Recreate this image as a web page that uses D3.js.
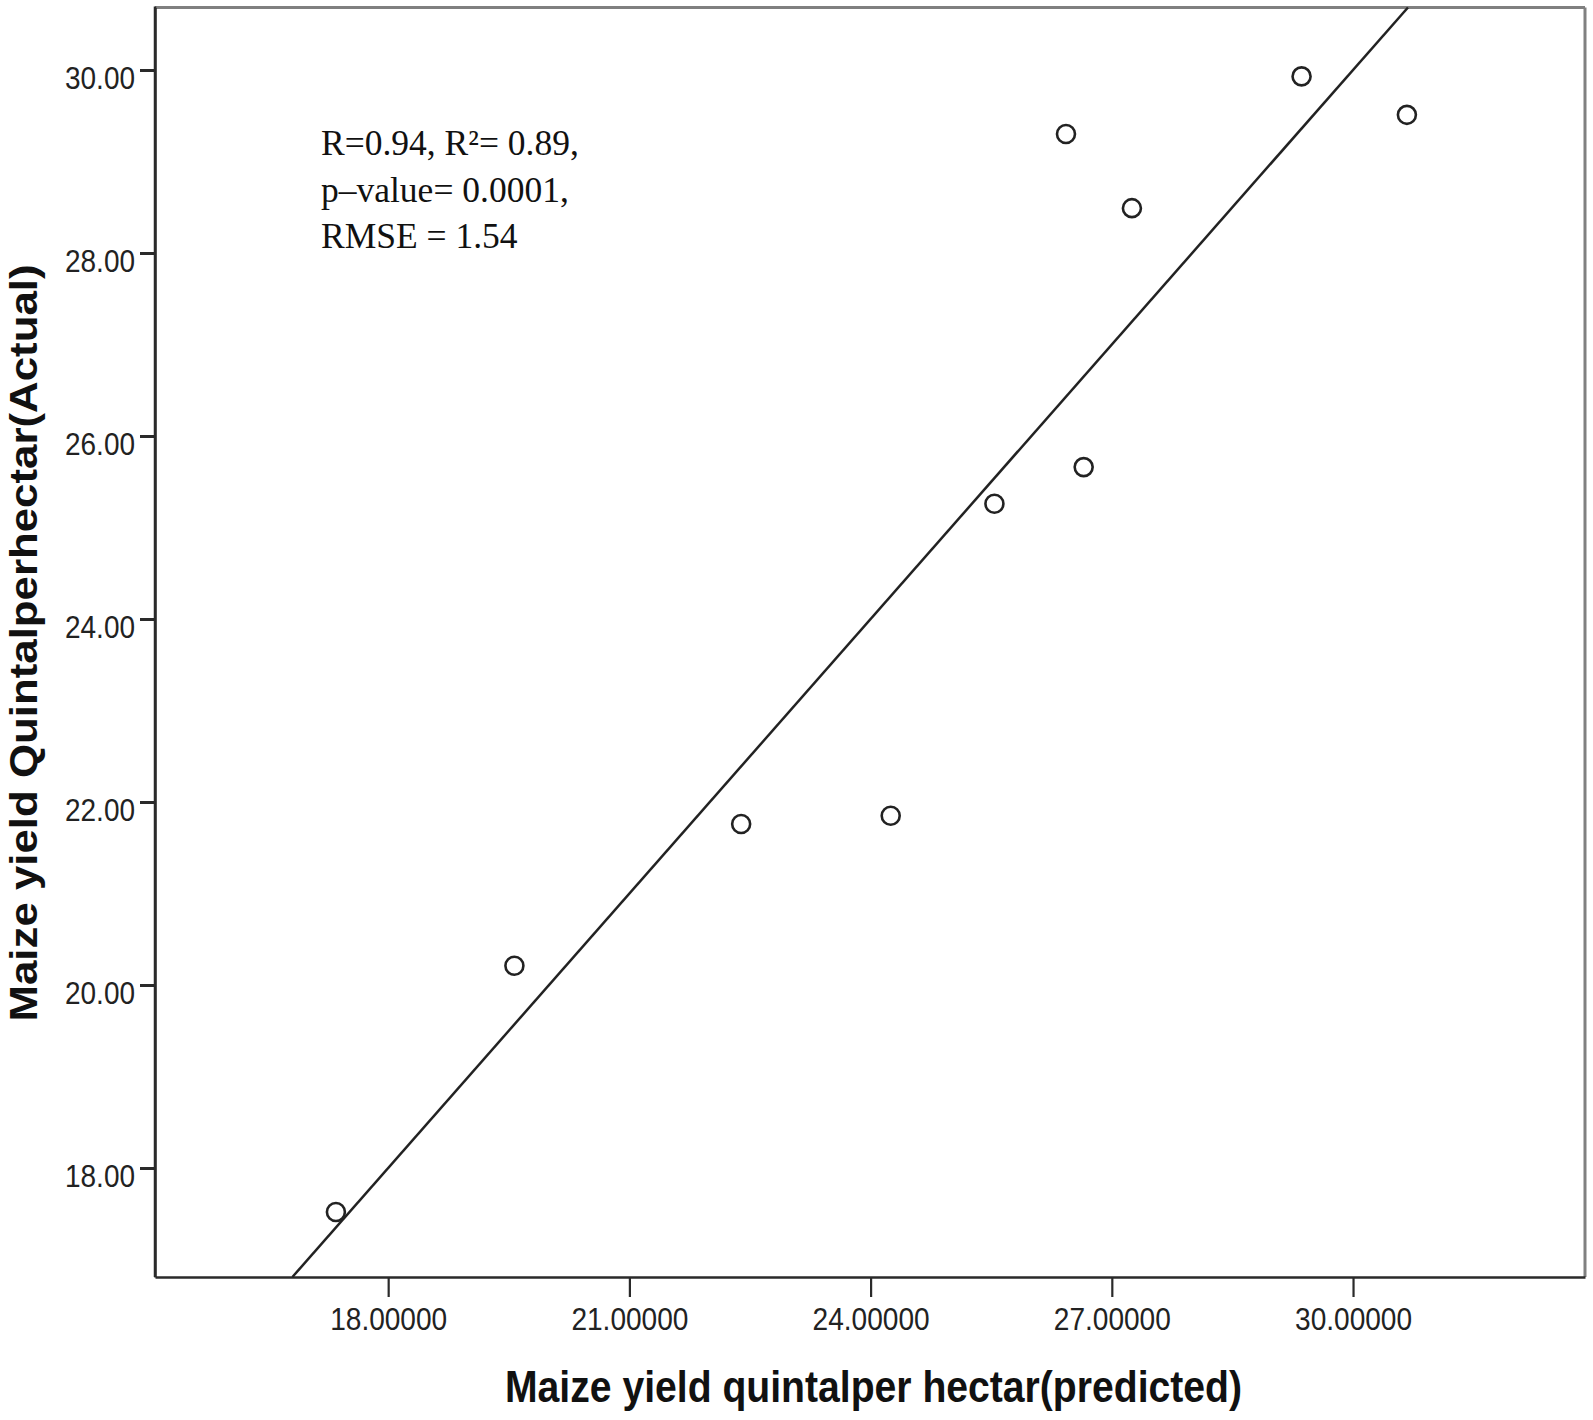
<!DOCTYPE html>
<html>
<head>
<meta charset="utf-8">
<script src="https://cdn.jsdelivr.net/npm/d3@7"></script>
<style>
  html, body { margin: 0; padding: 0; background: #fff; }
  svg { display: block; }
</style>
</head>
<body>
<svg id="chart" width="1593" height="1420"></svg>
<script>
// ---- data ----
const predicted = [17.35, 19.57, 22.39, 24.25, 25.54, 26.65, 26.43, 27.25, 29.36, 30.67];
const actual    = [17.52, 20.21, 21.76, 21.85, 25.26, 25.66, 29.30, 28.49, 29.93, 29.51];
const xTicks = [18, 21, 24, 27, 30];
const yTicks = [18, 20, 22, 24, 26, 28, 30];
const xDomain = [15.10, 32.885];
const yDomain = [16.809, 30.683];
const xTitle = "Maize yield quintalper hectar(predicted)";
const yTitle = "Maize yield Quintalperhectar(Actual)";
const statLines = ["R=0.94, R\u00B2= 0.89,", "p\u2013value= 0.0001,", "RMSE = 1.54"];

// ---- layout ----
const L = 155, R = 1585, T = 7.5, B = 1277;
const svg = d3.select("#chart");
const x = d3.scaleLinear().domain(xDomain).range([L, R]);
const y = d3.scaleLinear().domain(yDomain).range([B, T]);

// frame (top/right gray)
svg.append("line").attr("x1", L).attr("x2", R).attr("y1", T).attr("y2", T)
  .attr("stroke", "#808080").attr("stroke-width", 3);
svg.append("line").attr("x1", R).attr("x2", R).attr("y1", T).attr("y2", B)
  .attr("stroke", "#808080").attr("stroke-width", 3);

// x axis
const gx = svg.append("g").attr("transform", `translate(0,${B})`)
  .call(d3.axisBottom(x).tickValues(xTicks).tickFormat(d3.format(".5f")).tickSize(20).tickSizeOuter(0));
gx.select(".domain").attr("stroke", "#2a2a2a").attr("stroke-width", 2.5);
gx.selectAll(".tick line").attr("stroke", "#2a2a2a").attr("stroke-width", 2.2);
gx.selectAll(".tick text")
  .attr("y", 53).attr("dy", null)
  .attr("fill", "#222")
  .attr("font-family", "'Liberation Sans', Arial, sans-serif")
  .attr("font-size", 32)
  .attr("textLength", 117).attr("lengthAdjust", "spacingAndGlyphs");

// y axis
const gy = svg.append("g").attr("transform", `translate(${L},0)`)
  .call(d3.axisLeft(y).tickValues(yTicks).tickFormat(d3.format(".2f")).tickSize(15).tickSizeOuter(0));
gy.select(".domain").attr("stroke", "#2a2a2a").attr("stroke-width", 2.5);
gy.selectAll(".tick line").attr("stroke", "#2a2a2a").attr("stroke-width", 3);
gy.selectAll(".tick text")
  .attr("x", -20).attr("y", 18.5).attr("dy", null)
  .attr("fill", "#222")
  .attr("font-family", "'Liberation Sans', Arial, sans-serif")
  .attr("font-size", 32)
  .attr("textLength", 70).attr("lengthAdjust", "spacingAndGlyphs");

// extend left axis line over whole frame
svg.append("line").attr("x1", L).attr("x2", L).attr("y1", T - 1).attr("y2", B)
  .attr("stroke", "#2a2a2a").attr("stroke-width", 2.5);

// reference (fit) line y = x clipped to plot area
const lo = Math.max(xDomain[0], yDomain[0]);
const hi = Math.min(xDomain[1], yDomain[1]);
svg.append("line")
  .attr("x1", x(lo)).attr("y1", y(lo))
  .attr("x2", x(hi)).attr("y2", y(hi))
  .attr("stroke", "#222").attr("stroke-width", 2.5);

// points
svg.append("g").selectAll("circle")
  .data(predicted.map((p, i) => ({ p, a: actual[i] })))
  .join("circle")
  .attr("cx", d => x(d.p)).attr("cy", d => y(d.a))
  .attr("r", 9)
  .attr("fill", "#fff").attr("stroke", "#222").attr("stroke-width", 2.6);

// stats text
const st = svg.append("text")
  .attr("font-family", "'Liberation Serif', 'Times New Roman', serif")
  .attr("font-size", 35.5).attr("fill", "#111");
statLines.forEach((s, i) => {
  st.append("tspan").attr("x", 321).attr("y", 155 + i * 46.5).text(s);
});

// axis titles
svg.append("text")
  .attr("x", (505 + 1242) / 2).attr("y", 1402)
  .attr("text-anchor", "middle")
  .attr("font-family", "'Liberation Sans', Arial, sans-serif")
  .attr("font-weight", "bold").attr("font-size", 44).attr("fill", "#111")
  .attr("textLength", 737).attr("lengthAdjust", "spacingAndGlyphs")
  .text(xTitle);

svg.append("text")
  .attr("transform", "translate(37,643) scale(0.88,1) rotate(-90)")
  .attr("text-anchor", "middle")
  .attr("font-family", "'Liberation Sans', Arial, sans-serif")
  .attr("font-weight", "bold").attr("font-size", 44).attr("fill", "#111")
  .attr("textLength", 757).attr("lengthAdjust", "spacingAndGlyphs")
  .text(yTitle);
</script>
</body>
</html>
